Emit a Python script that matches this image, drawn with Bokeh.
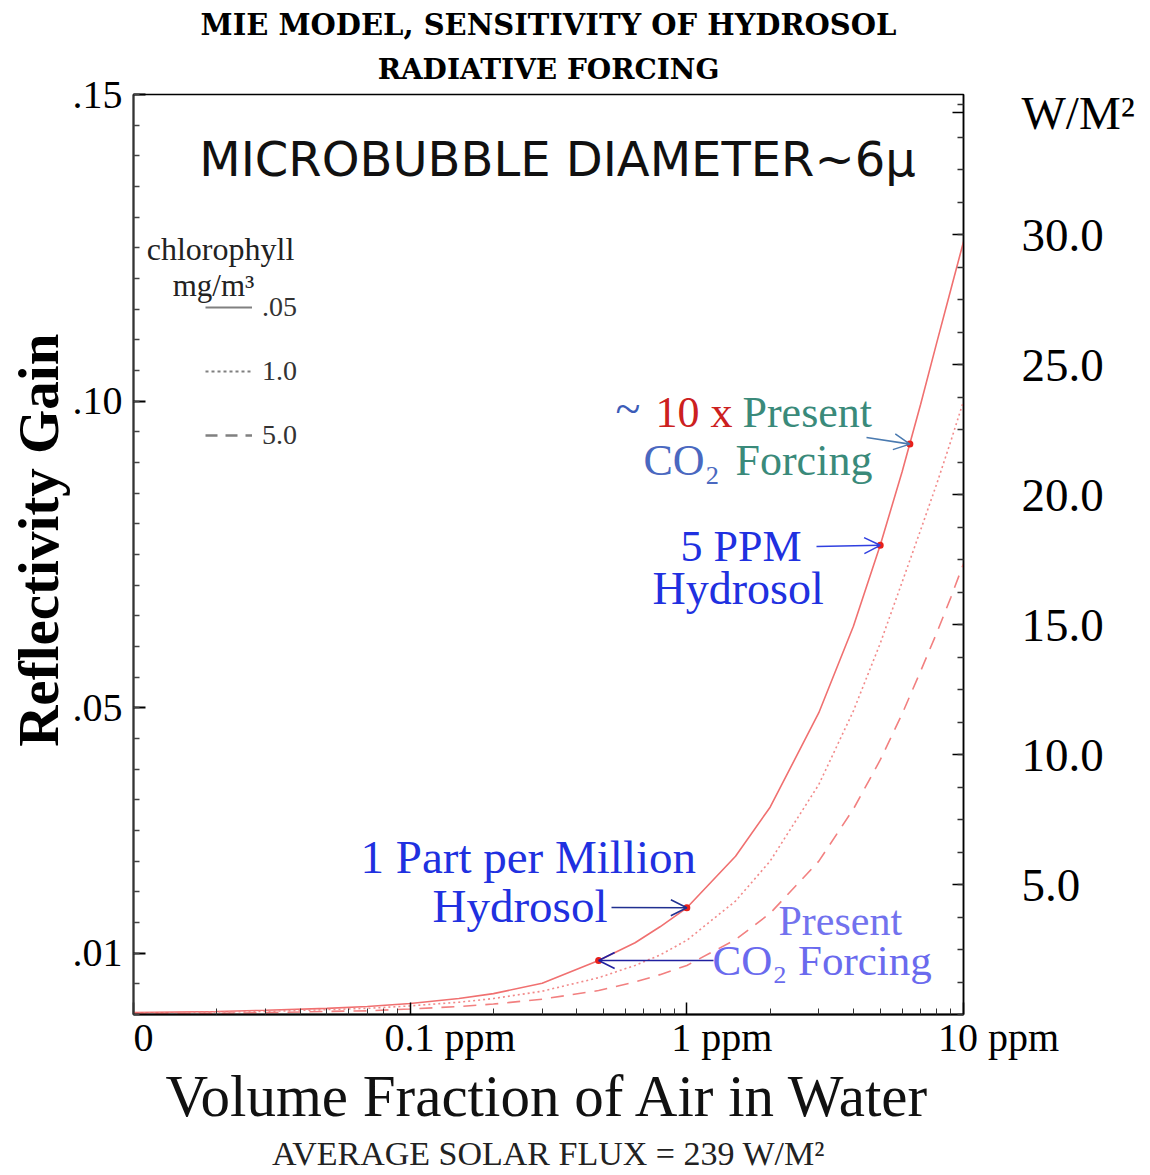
import math
from bokeh.plotting import figure
from bokeh.models import (Range1d, LinearAxis, FixedTicker, Label, Arrow, OpenHead,
                          Legend, LegendItem, CustomJSTickFormatter, Title)
from bokeh.embed import file_html
from bokeh.resources import INLINE

# ---------------- data ----------------
volume_ppm = [0.01, 0.02, 0.03, 0.05, 0.07, 0.1, 0.15, 0.2, 0.3, 0.48, 0.65, 0.8,
              1, 1.5, 2, 3, 4, 5, 6, 7, 8, 9, 10]
gain_chl_005 = [0.0003, 0.0005, 0.0007, 0.0010, 0.0013, 0.0018, 0.0026, 0.0034, 0.0051,
                0.0088, 0.0117, 0.0143, 0.0174, 0.0258, 0.0338, 0.0492, 0.0633, 0.0765,
                0.0885, 0.0995, 0.1095, 0.1182, 0.1260]
gain_chl_1 = [0.0002, 0.0004, 0.0005, 0.0008, 0.0010, 0.0014, 0.0020, 0.0026, 0.0038,
              0.0060, 0.0080, 0.0097, 0.0121, 0.0185, 0.0250, 0.0375, 0.0495, 0.0605,
              0.0705, 0.0790, 0.0865, 0.0935, 0.1000]
gain_chl_5 = [0.0001, 0.0002, 0.0003, 0.0005, 0.0006, 0.0009, 0.0013, 0.0017, 0.0025,
              0.0039, 0.0053, 0.0065, 0.0080, 0.0122, 0.0165, 0.0250, 0.0335, 0.0415,
              0.0490, 0.0560, 0.0622, 0.0680, 0.0735]
marked_ppm = [0.48, 1.0, 5.0, 6.4]
marked_gain = [0.0088, 0.0174, 0.0765, 0.093]
chl_labels = [".05", "1.0", "5.0"]

x_tick_values = [0.01, 0.1, 1, 10]
x_tick_labels = ["0", "0.1 ppm", "1 ppm", "10 ppm"]
y_tick_values = [0.01, 0.05, 0.10, 0.15]
y_tick_labels = [".01", ".05", ".10", ".15"]
flux_tick_values = [5, 10, 15, 20, 25, 30, 34.7]
flux_tick_labels = ["5.0", "10.0", "15.0", "20.0", "25.0", "30.0", "W/M\u00b2"]
flux_max = 35.4

# ---------------- figure ----------------
SERIF = "Liberation Serif"
NBSP = "\u00a0"
p = figure(width=1150, height=1172, x_axis_type="log", title=None,
           x_range=Range1d(0.01, 10), y_range=Range1d(0, 0.15),
           output_backend="svg", toolbar_location=None,
           min_border_left=133, min_border_right=187,
           min_border_top=94, min_border_bottom=158)
p.grid.visible = False
p.outline_line_color = "black"
p.outline_line_width = 1.5
p.background_fill_color = "white"
p.border_fill_color = "white"

# curves
p.line(volume_ppm, gain_chl_005, line_color="#f07070", line_width=1.6)
p.line(volume_ppm, gain_chl_1, line_color="#f28a8a", line_width=1.6, line_dash="2 3")
p.line(volume_ppm, gain_chl_5, line_color="#f28080", line_width=1.6, line_dash="13 9")
p.scatter(marked_ppm, marked_gain, size=7, color="#e8201a", line_color=None)

# ---------------- axes ----------------
def minor_log(lo_exp, hi_exp):
    out = []
    for d in range(lo_exp, hi_exp):
        for k in range(2, 10):
            out.append(k * 10 ** d)
    return out

fmt_js = """
let best = 0, bd = 1e9;
for (let i = 0; i < vals.length; i++) {
  const d = Math.abs(vals[i] - tick) / Math.max(Math.abs(vals[i]), 1e-9);
  if (d < bd) { bd = d; best = i; }
}
if (bd > 1e-6) return '';
const n = (typeof lead === 'undefined') ? 0 : lead[best];
return '\\u00a0'.repeat(n) + labs[best];
"""

# number centred on its tick, unit trailing (leading no-break spaces)
x_label_lead = [2, 8, 7, 7]

xa = p.xaxis[0]
xa.ticker = FixedTicker(ticks=x_tick_values, minor_ticks=minor_log(-2, 1))
xa.formatter = CustomJSTickFormatter(
    args=dict(vals=x_tick_values, labs=x_tick_labels, lead=x_label_lead), code=fmt_js)
xa.major_tick_in = 12
xa.major_tick_out = 0
xa.minor_tick_in = 6
xa.minor_tick_out = 0
xa.axis_line_width = 2
xa.axis_line_color = "black"
xa.major_tick_line_color = "black"
xa.minor_tick_line_color = "#333333"
xa.major_tick_line_width = 1.5
xa.major_label_standoff = 0
xa.major_label_text_font = SERIF
xa.major_label_text_font_size = "40px"
xa.major_label_text_color = "black"
xa.axis_label = "Volume Fraction of Air in Water"
xa.axis_label_standoff = 0
xa.axis_label_text_font = SERIF
xa.axis_label_text_font_size = "59px"
xa.axis_label_text_font_style = "normal"
xa.axis_label_text_color = "#111111"

ya = p.yaxis[0]
ya.ticker = FixedTicker(ticks=y_tick_values,
                        minor_ticks=[round(0.005 * k, 4) for k in range(0, 31)])
ya.formatter = CustomJSTickFormatter(args=dict(vals=y_tick_values, labs=y_tick_labels),
                                     code=fmt_js)
ya.major_tick_in = 12
ya.major_tick_out = 0
ya.minor_tick_in = 6
ya.minor_tick_out = 0
ya.axis_line_width = 2
ya.axis_line_color = "#333333"
ya.major_tick_line_color = "black"
ya.major_tick_line_width = 2
ya.minor_tick_line_color = "#444444"
ya.minor_tick_line_width = 1.5
ya.major_label_standoff = 11
ya.major_label_text_font = SERIF
ya.major_label_text_font_size = "40px"
ya.major_label_text_color = "black"
ya.axis_label = NBSP * 3 + "Reflectivity  Gain"
ya.axis_label_standoff = 0
ya.axis_label_text_font = SERIF
ya.axis_label_text_font_size = "57px"
ya.axis_label_text_font_style = "bold"
ya.axis_label_text_color = "black"

p.extra_y_ranges = {"flux": Range1d(0, flux_max)}
ra = LinearAxis(y_range_name="flux")
ra.ticker = FixedTicker(ticks=flux_tick_values,
                        minor_ticks=[1.25 * k for k in range(0, 29)])
ra.formatter = CustomJSTickFormatter(args=dict(vals=flux_tick_values, labs=flux_tick_labels),
                                     code=fmt_js)
ra.major_tick_in = 11
ra.major_tick_out = 0
ra.minor_tick_in = 6
ra.minor_tick_out = 0
ra.axis_line_width = 1.5
ra.axis_line_color = "black"
ra.major_tick_line_width = 1.5
ra.minor_tick_line_color = "#333333"
ra.minor_tick_line_width = 1.5
ra.major_label_standoff = 58
ra.major_label_text_font = SERIF
ra.major_label_text_font_size = "47px"
ra.major_label_text_color = "black"
p.add_layout(ra, "right")

# ---------------- titles ----------------
p.add_layout(Title(text="RADIATIVE FORCING", align="center", offset=6, standoff=18,
                   text_font="DejaVu Serif", text_font_size="28px",
                   text_font_style="bold", text_color="black"), "above")
p.add_layout(Title(text="MIE MODEL, SENSITIVITY OF HYDROSOL", align="center", offset=19,
                   standoff=0, text_font="DejaVu Serif", text_font_size="29px",
                   text_font_style="bold", text_color="black"), "above")
p.add_layout(Title(text="AVERAGE SOLAR FLUX = 239 W/M\u00b2", align="center", offset=0,
                   standoff=2, text_font=SERIF, text_font_size="34px",
                   text_font_style="normal", text_color="#222222"), "below")

# ---------------- legend ----------------
r_a = p.line(volume_ppm, gain_chl_005, line_color="#808080", line_width=2, visible=False)
r_b = p.line(volume_ppm, gain_chl_1, line_color="#808080", line_width=2,
             line_dash="3 3", visible=False)
r_c = p.line(volume_ppm, gain_chl_5, line_color="#808080", line_width=2.5,
             line_dash="12 8", visible=False)
legend = Legend(items=[LegendItem(label=chl_labels[0], renderers=[r_a]),
                       LegendItem(label=chl_labels[1], renderers=[r_b]),
                       LegendItem(label=chl_labels[2], renderers=[r_c])],
                location=(72, 563), glyph_width=47, glyph_height=30, label_height=30,
                spacing=32, padding=0, margin=0, label_standoff=10,
                border_line_color=None, background_fill_alpha=0,
                label_text_font=SERIF, label_text_font_size="28px",
                label_text_color="#333333")
p.add_layout(legend)

# ---------------- texts inside the frame ----------------
def lab(text, x, y, size, color="black", font=SERIF, style="normal", align="left"):
    p.add_layout(Label(x=x, y=y, x_units="screen", y_units="screen", text=text,
                       text_font=font, text_font_size=size, text_color=color,
                       text_font_style=style, text_align=align,
                       text_baseline="middle"))

lab("MICROBUBBLE DIAMETER~6\u03bc", 424, 856, "48px", font="DejaVu Sans",
    align="center", color="#111111")
lab("chlorophyll", 87, 766, "32px", align="center", color="#222222")
lab("mg/m\u00b3", 80, 729, "31px", align="center", color="#222222")

lab("~", 482, 606, "46px", color="#3c5cb8")
lab("10 x", 522, 602, "44px", color="#cc2020")
lab("Present", 609, 602, "44px", color="#3a8a7a")
lab("CO\u2082", 510, 554, "44px", color="#4a68c0")
lab("Forcing", 602, 554, "44px", color="#3a8a7a")
lab("5 PPM", 547, 468, "44px", color="#2030e0")
lab("Hydrosol", 519, 426, "46px", color="#2030e0")
lab("1 Part per Million", 227, 158, "47px", color="#2030e0")
lab("Hydrosol", 299, 109, "47px", color="#2030e0")
lab("Present", 645, 94, "42px", color="#7272ee")
lab("CO\u2082 Forcing", 579, 54, "43px", color="#6a6aee")

arrow_specs = [
    ((733, 577), 3, "#4a7ab0"),
    ((683, 468), 2, "#3040e0"),
    ((478, 107), 1, "#203090"),
    ((580, 54), 0, "#2020a0"),
]
for (sx, sy), idx, c in arrow_specs:
    p.add_layout(Arrow(x_start=sx, y_start=sy, start_units="screen",
                       x_end=marked_ppm[idx], y_end=marked_gain[idx], end_units="data",
                       line_color=c, line_width=1.6,
                       end=OpenHead(size=16, line_color=c, line_width=1.5)))

open("out.html", "w").write(file_html(p, INLINE))
